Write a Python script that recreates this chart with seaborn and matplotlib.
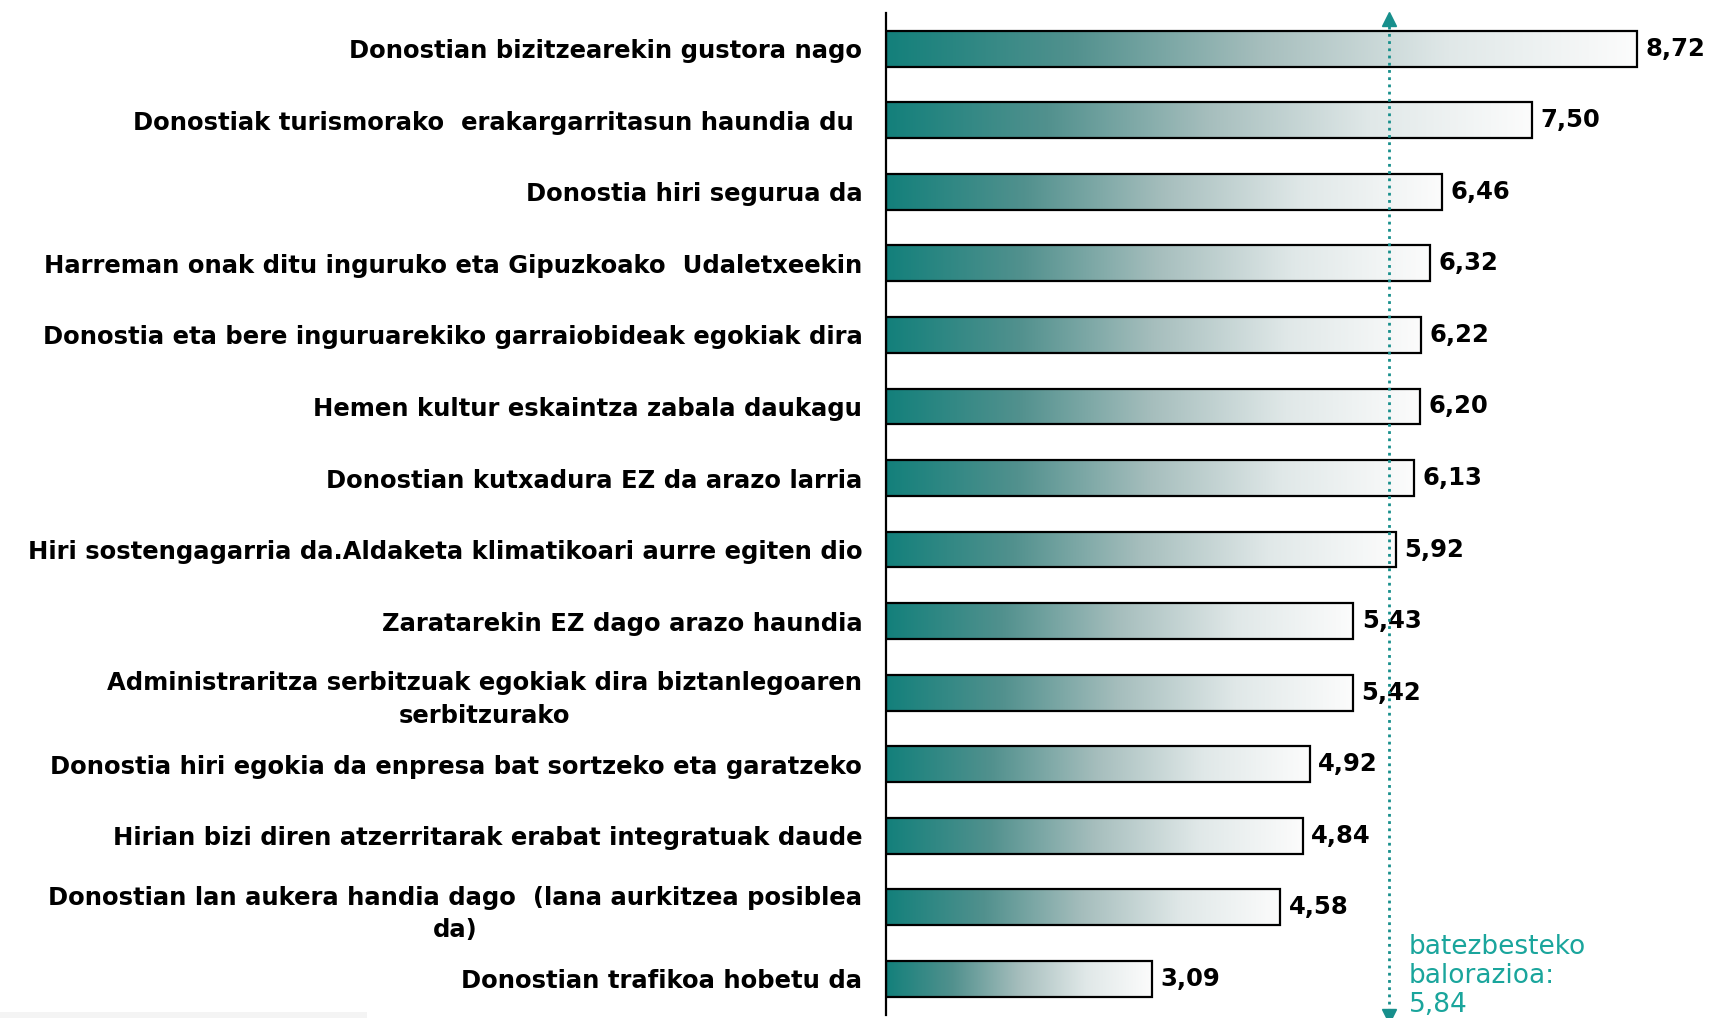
import numpy as np
import pandas as pd
import matplotlib
matplotlib.use("Agg")
import matplotlib.pyplot as plt
from matplotlib.colors import LinearSegmentedColormap
from matplotlib.patches import Rectangle
import seaborn as sns

categories = [
    "Donostian bizitzearekin gustora nago",
    "Donostiak turismorako  erakargarritasun haundia du ",
    "Donostia hiri segurua da",
    "Harreman onak ditu inguruko eta Gipuzkoako  Udaletxeekin",
    "Donostia eta bere inguruarekiko garraiobideak egokiak dira",
    "Hemen kultur eskaintza zabala daukagu",
    "Donostian kutxadura EZ da arazo larria",
    "Hiri sostengagarria da.Aldaketa klimatikoari aurre egiten dio",
    "Zaratarekin EZ dago arazo haundia",
    "Administraritza serbitzuak egokiak dira biztanlegoaren\nserbitzurako",
    "Donostia hiri egokia da enpresa bat sortzeko eta garatzeko",
    "Hirian bizi diren atzerritarak erabat integratuak daude",
    "Donostian lan aukera handia dago  (lana aurkitzea posiblea\nda)",
    "Donostian trafikoa hobetu da",
]
values = [8.72, 7.50, 6.46, 6.32, 6.22, 6.20, 6.13, 5.92, 5.43, 5.42, 4.92, 4.84, 4.58, 3.09]
mean_value = 5.84
mean_label = "batezbesteko\nbalorazioa:\n5,84"

sns.set_style("white")
plt.rcParams["font.family"] = ["DejaVu Sans"]

df = pd.DataFrame({"item": categories, "value": values})

fig = plt.figure(figsize=(17.09, 10.18), dpi=100)
ax = fig.add_axes([0.5184, 0.0033, 0.4816, 0.984])

sns.barplot(data=df, x="value", y="item", orient="h", ax=ax, width=0.5,
            color="white", edgecolor="black", linewidth=1.6, saturation=1)

cmap = LinearSegmentedColormap.from_list(
    "tealfade",
    [(0.0, "#13807b"), (0.25, "#52918e"), (0.5, "#a6bebd"),
     (0.75, "#e0e8e8"), (1.0, "#fcfcfc")])
grad = np.linspace(0, 1, 256).reshape(1, -1)
for p in ax.patches:
    x0, y0 = p.get_x(), p.get_y()
    w, h = p.get_width(), p.get_height()
    p.set_facecolor("none")
    p.set_zorder(3)
    ax.imshow(grad, cmap=cmap, aspect="auto", extent=(x0, x0 + w, y0 + h, y0),
              zorder=2, interpolation="bilinear")

ax.set_xlim(0, 9.56)
ax.set_ylim(13.5, -0.5)

# value labels
for p, v in zip(ax.patches, values):
    ax.annotate(f"{v:.2f}".replace(".", ","),
                xy=(p.get_x() + p.get_width(), p.get_y() + p.get_height() / 2),
                xytext=(6, 0), textcoords="offset points", va="center", ha="left",
                fontsize=17.5, fontweight="bold", color="black")

# mean line
teal = "#178f8c"
ax.vlines(mean_value, -0.42, 13.45, colors=teal, linestyles=(0, (1, 1.6)), lw=2, zorder=4)
ax.plot([mean_value], [-0.42], marker="^", color=teal, ms=10, clip_on=False, zorder=5)
ax.plot([mean_value], [13.52], marker="v", color=teal, ms=10, clip_on=False, zorder=5)
ax.text(6.07, 12.37, mean_label, color="#1aa59c", fontsize=19, va="top", ha="left",
        linespacing=1.15)

# axes styling
for s in ["top", "right", "bottom"]:
    ax.spines[s].set_visible(False)
ax.spines["left"].set_color("black")
ax.spines["left"].set_linewidth(1.6)
ax.set_xlabel("")
ax.set_ylabel("")
ax.set_xticks([])
ax.tick_params(axis="y", which="major", length=0, pad=17)
ax.set_yticks(np.arange(-0.5, 14, 1), minor=True)
ax.tick_params(axis="y", which="minor", length=7, width=1.6, color="black", direction="out")
for lab in ax.get_yticklabels():
    lab.set_fontweight("bold")
    lab.set_fontsize(17.5)
    lab.set_color("black")
    lab.set_multialignment("center")
    lab.set_linespacing(1.45)

fig.add_artist(Rectangle((0, 0.0), 367 / 1709, 6 / 1018, transform=fig.transFigure,
                         facecolor="#f4f4f4", edgecolor="none"))

fig.savefig("out.png", dpi=100)
